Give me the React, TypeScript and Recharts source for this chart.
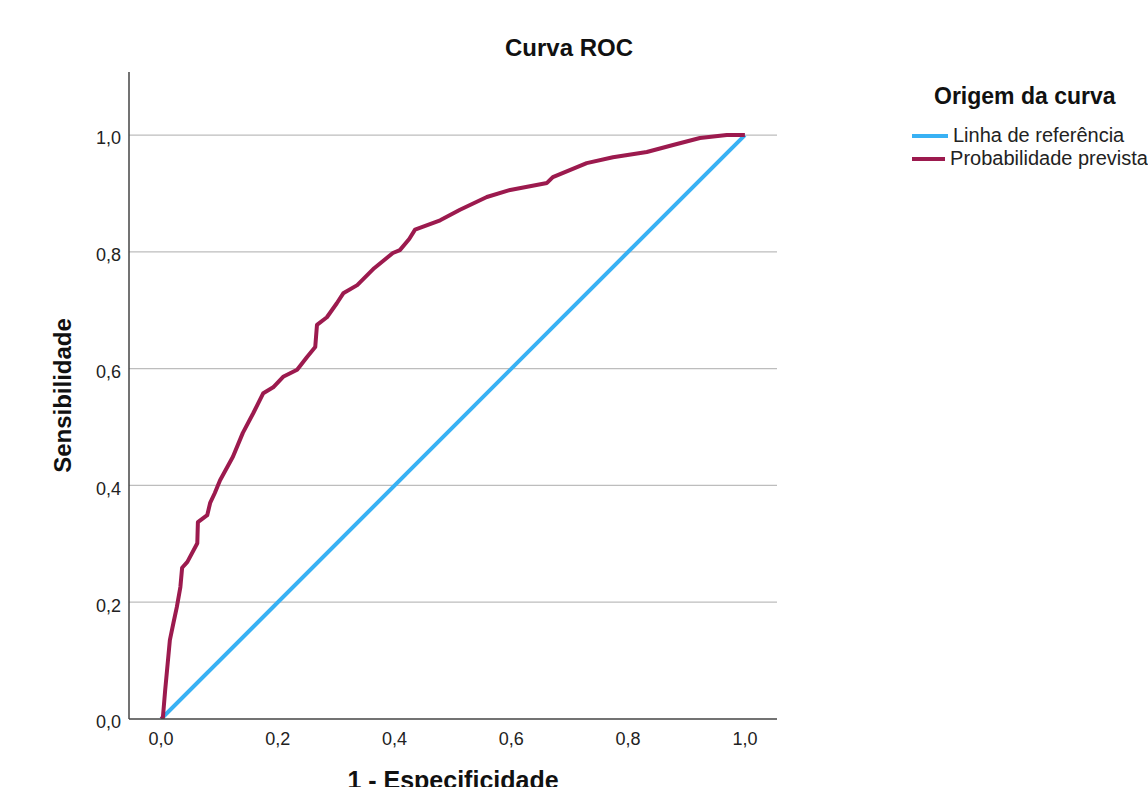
import React from 'react';
import { LineChart, Line, XAxis, YAxis, CartesianGrid } from 'recharts';

// pontos (1 - especificidade, sensibilidade)
const fpr = [
  0, 0.003, 0.007, 0.015, 0.021, 0.027, 0.033, 0.036, 0.045, 0.062, 0.063, 0.079,
  0.084, 0.092, 0.101, 0.123, 0.14, 0.158, 0.175, 0.192, 0.209, 0.233, 0.25, 0.264,
  0.267, 0.284, 0.301, 0.312, 0.336, 0.365, 0.397, 0.409, 0.425, 0.435, 0.478, 0.512,
  0.558, 0.598, 0.661, 0.671, 0.729, 0.774, 0.832, 0.877, 0.923, 0.969, 1.0,
];
const tpr = [
  0, 0.002, 0.05, 0.135, 0.164, 0.192, 0.226, 0.259, 0.269, 0.301, 0.337, 0.349,
  0.37, 0.387, 0.409, 0.449, 0.49, 0.524, 0.558, 0.568, 0.586, 0.598, 0.62, 0.637,
  0.675, 0.688, 0.712, 0.729, 0.743, 0.772, 0.798, 0.803, 0.822, 0.838, 0.854, 0.872,
  0.894, 0.906, 0.918, 0.928, 0.952, 0.962, 0.971, 0.983, 0.995, 1.0, 1.0,
];
const refX = [0, 1];
const refY = [0, 1];

const ticks = [0, 0.2, 0.4, 0.6, 0.8, 1.0];
const gridValues = [0.2, 0.4, 0.6, 0.8, 1.0];
const seriesNames = ['Linha de referência', 'Probabilidade prevista'];
const seriesColors = ['#38b1f4', '#9c1a4e'];

const curveData = fpr.map((x, i) => ({ x, y: tpr[i] }));
const refData = refX.map((x, i) => ({ x, y: refY[i] }));

const fmt = (v: number) => v.toFixed(1).replace('.', ',');
const font = '"Liberation Sans", Arial, sans-serif';

const App: React.FC = () => {
  return (
    <div style={{ position: 'absolute', left: 0, top: 0, width: 1148, height: 787, background: '#fff', fontFamily: font }}>
      <LineChart width={1148} height={787} margin={{ top: 72, right: 371, bottom: 38, left: 69 }}>
        <CartesianGrid vertical={false} horizontalValues={gridValues} stroke="#bdbdbd" strokeWidth={1.2} />
        <XAxis
          type="number"
          dataKey="x"
          domain={[-0.055, 1.055]}
          allowDataOverflow
          ticks={ticks}
          tickFormatter={fmt}
          tickLine={false}
          tickSize={6}
          tickMargin={7}
          height={30}
          axisLine={{ stroke: '#444', strokeWidth: 1.5 }}
          tick={{ fontSize: 18, fill: '#222', fontFamily: font }}
          label={{
            content: (p: any) => {
              const vb = p.viewBox;
              return (
                <text x={vb.x + vb.width / 2} y={vb.y + 70} textAnchor="middle" fontSize={25} fontWeight="bold" fill="#111" fontFamily={font}>
                  1 - Especificidade
                </text>
              );
            },
          }}
        />
        <YAxis
          type="number"
          dataKey="y"
          domain={[0, 1.108]}
          allowDataOverflow
          ticks={ticks}
          tickFormatter={fmt}
          tickLine={false}
          width={60}
          axisLine={{ stroke: '#444', strokeWidth: 1.5 }}
          tick={{ fontSize: 18, fill: '#222', fontFamily: font, dy: 3 }}
          label={{
            content: (p: any) => {
              const vb = p.viewBox;
              const cx = vb.x - 7;
              const cy = vb.y + vb.height / 2;
              return (
                <text x={cx} y={cy} transform={`rotate(-90 ${cx} ${cy})`} textAnchor="middle" dominantBaseline="central" fontSize={24} fontWeight="bold" fill="#111" fontFamily={font}>
                  Sensibilidade
                </text>
              );
            },
          }}
        />
        <Line data={refData} dataKey="y" name={seriesNames[0]} stroke={seriesColors[0]} strokeWidth={4} dot={false} isAnimationActive={false} />
        <Line data={curveData} dataKey="y" name={seriesNames[1]} stroke={seriesColors[1]} strokeWidth={4} dot={false} strokeLinejoin="round" isAnimationActive={false} />
      </LineChart>

      <div style={{ position: 'absolute', left: 469, width: 200, top: 34, textAlign: 'center', fontSize: 24, fontWeight: 'bold', color: '#111' }}>
        Curva ROC
      </div>

      <div style={{ position: 'absolute', left: 912, top: 82, width: 236, overflow: 'hidden', whiteSpace: 'nowrap' }}>
        <div style={{ marginLeft: 22, fontSize: 23, fontWeight: 'bold', color: '#111', lineHeight: '28px' }}>Origem da curva</div>
        <div style={{ marginTop: 14 }}>
          {seriesNames.map((n, i) => (
            <div key={n} style={{ display: 'flex', alignItems: 'center', height: 23 }}>
              <div style={{ width: 36, height: 4, background: seriesColors[i], marginRight: 5 }} />
              <span style={{ fontSize: 20, color: '#222' }}>{n}</span>
            </div>
          ))}
        </div>
      </div>
    </div>
  );
};

export default App;
